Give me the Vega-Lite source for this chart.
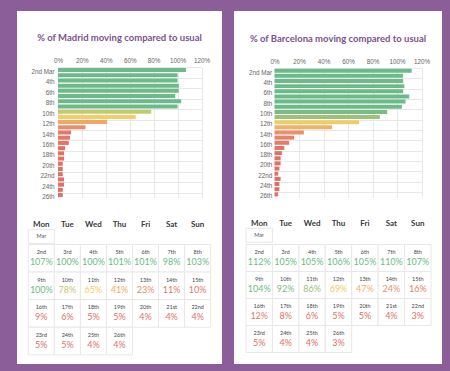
{
  "$schema": "https://vega.github.io/schema/vega-lite/v6.json",
  "background": "#8b5d99",
  "padding": {"left": 17, "top": 11, "right": 8, "bottom": 7},
  "datasets": {
    "madrid": [
      {"day": 2, "label": "2nd", "share": 1.07, "dow": "Mon", "week": 1},
      {"day": 3, "label": "3rd", "share": 1.00, "dow": "Tue", "week": 1},
      {"day": 4, "label": "4th", "share": 1.00, "dow": "Wed", "week": 1},
      {"day": 5, "label": "5th", "share": 1.01, "dow": "Thu", "week": 1},
      {"day": 6, "label": "6th", "share": 1.01, "dow": "Fri", "week": 1},
      {"day": 7, "label": "7th", "share": 0.98, "dow": "Sat", "week": 1},
      {"day": 8, "label": "8th", "share": 1.03, "dow": "Sun", "week": 1},
      {"day": 9, "label": "9th", "share": 1.00, "dow": "Mon", "week": 2},
      {"day": 10, "label": "10th", "share": 0.78, "dow": "Tue", "week": 2},
      {"day": 11, "label": "11th", "share": 0.65, "dow": "Wed", "week": 2},
      {"day": 12, "label": "12th", "share": 0.41, "dow": "Thu", "week": 2},
      {"day": 13, "label": "13th", "share": 0.23, "dow": "Fri", "week": 2},
      {"day": 14, "label": "14th", "share": 0.11, "dow": "Sat", "week": 2},
      {"day": 15, "label": "15th", "share": 0.10, "dow": "Sun", "week": 2},
      {"day": 16, "label": "16th", "share": 0.09, "dow": "Mon", "week": 3},
      {"day": 17, "label": "17th", "share": 0.06, "dow": "Tue", "week": 3},
      {"day": 18, "label": "18th", "share": 0.05, "dow": "Wed", "week": 3},
      {"day": 19, "label": "19th", "share": 0.05, "dow": "Thu", "week": 3},
      {"day": 20, "label": "20th", "share": 0.04, "dow": "Fri", "week": 3},
      {"day": 21, "label": "21st", "share": 0.04, "dow": "Sat", "week": 3},
      {"day": 22, "label": "22nd", "share": 0.04, "dow": "Sun", "week": 3},
      {"day": 23, "label": "23rd", "share": 0.05, "dow": "Mon", "week": 4},
      {"day": 24, "label": "24th", "share": 0.05, "dow": "Tue", "week": 4},
      {"day": 25, "label": "25th", "share": 0.04, "dow": "Wed", "week": 4},
      {"day": 26, "label": "26th", "share": 0.04, "dow": "Thu", "week": 4}
    ],
    "barcelona": [
      {"day": 2, "label": "2nd", "share": 1.12, "dow": "Mon", "week": 1},
      {"day": 3, "label": "3rd", "share": 1.05, "dow": "Tue", "week": 1},
      {"day": 4, "label": "4th", "share": 1.05, "dow": "Wed", "week": 1},
      {"day": 5, "label": "5th", "share": 1.06, "dow": "Thu", "week": 1},
      {"day": 6, "label": "6th", "share": 1.05, "dow": "Fri", "week": 1},
      {"day": 7, "label": "7th", "share": 1.10, "dow": "Sat", "week": 1},
      {"day": 8, "label": "8th", "share": 1.07, "dow": "Sun", "week": 1},
      {"day": 9, "label": "9th", "share": 1.04, "dow": "Mon", "week": 2},
      {"day": 10, "label": "10th", "share": 0.92, "dow": "Tue", "week": 2},
      {"day": 11, "label": "11th", "share": 0.86, "dow": "Wed", "week": 2},
      {"day": 12, "label": "12th", "share": 0.69, "dow": "Thu", "week": 2},
      {"day": 13, "label": "13th", "share": 0.47, "dow": "Fri", "week": 2},
      {"day": 14, "label": "14th", "share": 0.24, "dow": "Sat", "week": 2},
      {"day": 15, "label": "15th", "share": 0.16, "dow": "Sun", "week": 2},
      {"day": 16, "label": "16th", "share": 0.12, "dow": "Mon", "week": 3},
      {"day": 17, "label": "17th", "share": 0.08, "dow": "Tue", "week": 3},
      {"day": 18, "label": "18th", "share": 0.06, "dow": "Wed", "week": 3},
      {"day": 19, "label": "19th", "share": 0.05, "dow": "Thu", "week": 3},
      {"day": 20, "label": "20th", "share": 0.05, "dow": "Fri", "week": 3},
      {"day": 21, "label": "21st", "share": 0.04, "dow": "Sat", "week": 3},
      {"day": 22, "label": "22nd", "share": 0.03, "dow": "Sun", "week": 3},
      {"day": 23, "label": "23rd", "share": 0.05, "dow": "Mon", "week": 4},
      {"day": 24, "label": "24th", "share": 0.04, "dow": "Tue", "week": 4},
      {"day": 25, "label": "25th", "share": 0.04, "dow": "Wed", "week": 4},
      {"day": 26, "label": "26th", "share": 0.03, "dow": "Thu", "week": 4}
    ],
    "month": [{"dow": "Mon", "m": "Mar"}]
  },
  "spacing": 12,
  "hconcat": [
    {
      "spacing": 0,
      "vconcat": [
        {
          "width": 205,
          "height": 194,
          "data": {"name": "madrid"},
          "title": {"text": "% of Madrid moving compared to usual", "offset": -36, "baseline": "middle"},
          "mark": {"type": "bar"},
          "encoding": {
            "x": {
              "field": "share", "type": "quantitative",
              "scale": {"domain": [0, 1.2], "range": [41, 184.5], "nice": false},
              "axis": {"orient": "top", "offset": -54, "values": [0, 0.2, 0.4, 0.6, 0.8, 1.0, 1.2], "format": ".0%", "labelFlush": false, "grid": true, "title": null}
            },
            "y": {
              "field": "label", "type": "nominal",
              "scale": {"domain": ["2nd","3rd","4th","5th","6th","7th","8th","9th","10th","11th","12th","13th","14th","15th","16th","17th","18th","19th","20th","21st","22nd","23rd","24th","25th","26th"], "range": [56.4, 186.65], "paddingInner": 0.23, "paddingOuter": 0.115},
              "axis": {"orient": "left", "offset": -39, "values": ["2nd","4th","6th","8th","10th","12th","14th","16th","18th","20th","22nd","24th","26th"], "bandPosition": 0, "labelOffset": 2, "labelExpr": "datum.value == '2nd' ? '2nd Mar' : datum.value", "grid": true, "title": null}
            },
            "color": {
              "field": "share", "type": "quantitative",
              "scale": {"domain": [0.05, 0.15, 0.25, 0.45, 0.67, 0.8, 0.95], "range": ["#e06f66", "#e57f6b", "#ea926c", "#f2ae68", "#f5d067", "#bcc66d", "#6cba89"], "clamp": true, "interpolate": "rgb"},
              "legend": null
            }
          }
        },
        {
          "width": 205,
          "height": 39,
          "data": {"name": "month"},
          "encoding": {
            "x": {
              "field": "dow", "type": "nominal",
              "scale": {"domain": ["Mon","Tue","Wed","Thu","Fri","Sat","Sun"], "range": [11.3, 193.7], "paddingInner": 0, "paddingOuter": 0},
              "axis": {"orient": "top", "offset": -19.3, "labelBaseline": "middle", "labelPadding": 0, "labelAngle": 0, "labelFont": "Lato", "labelFontSize": 8, "labelFontWeight": "bold", "labelColor": "#3a3a3a", "grid": false, "title": null}
            },
            "y": {"field": "m", "type": "nominal", "scale": {"domain": ["Mar"], "range": [24.3, 38.3], "paddingInner": 0, "paddingOuter": 0}, "axis": null}
          },
          "layer": [
            {"mark": {"type": "rect", "fill": "white", "stroke": "#e8e8e8", "strokeWidth": 1}},
            {"mark": {"type": "text", "font": "Lato", "fontSize": 5.5, "color": "#555555"}, "encoding": {"text": {"field": "m"}}}
          ]
        },
        {
          "width": 205,
          "height": 120,
          "data": {"name": "madrid"},
          "encoding": {
            "x": {
              "field": "dow", "type": "nominal",
              "scale": {"domain": ["Mon","Tue","Wed","Thu","Fri","Sat","Sun"], "range": [11.3, 193.7], "paddingInner": 0, "paddingOuter": 0},
              "axis": null
            },
            "y": {"field": "week", "type": "ordinal", "scale": {"domain": [1, 2, 3, 4], "range": [0.5, 110.8], "paddingInner": 0, "paddingOuter": 0}, "axis": null}
          },
          "layer": [
            {"mark": {"type": "rect", "fill": "white", "stroke": "#e8e8e8", "strokeWidth": 1}},
            {"mark": {"type": "text", "font": "Lato", "fontSize": 5.5, "color": "#444444", "dy": -6.3}, "encoding": {"text": {"field": "label"}}},
            {
              "mark": {"type": "text", "font": "Lato", "fontSize": 9, "dy": 4},
              "encoding": {
                "text": {"field": "share", "type": "quantitative", "format": ".0%"},
                "color": {
                  "field": "share", "type": "quantitative",
                  "scale": {"domain": [0.05, 0.15, 0.25, 0.45, 0.67, 0.8, 0.95], "range": ["#e06f66", "#e57f6b", "#ea926c", "#f2ae68", "#f5d067", "#bcc66d", "#6cba89"], "clamp": true, "interpolate": "rgb"},
                  "legend": null
                }
              }
            }
          ]
        }
      ]
    },
    {
      "spacing": 0,
      "vconcat": [
        {
          "width": 208,
          "height": 194,
          "data": {"name": "barcelona"},
          "title": {"text": "% of Barcelona moving compared to usual", "offset": -37.5, "baseline": "middle"},
          "mark": {"type": "bar"},
          "encoding": {
            "x": {
              "field": "share", "type": "quantitative",
              "scale": {"domain": [0, 1.2], "range": [40.5, 187.5], "nice": false},
              "axis": {"orient": "top", "offset": -55, "values": [0, 0.2, 0.4, 0.6, 0.8, 1.0, 1.2], "format": ".0%", "labelFlush": false, "grid": true, "title": null}
            },
            "y": {
              "field": "label", "type": "nominal",
              "scale": {"domain": ["2nd","3rd","4th","5th","6th","7th","8th","9th","10th","11th","12th","13th","14th","15th","16th","17th","18th","19th","20th","21st","22nd","23rd","24th","25th","26th"], "range": [57.1, 185.9], "paddingInner": 0.23, "paddingOuter": 0.115},
              "axis": {"orient": "left", "offset": -39.7, "values": ["2nd","4th","6th","8th","10th","12th","14th","16th","18th","20th","22nd","24th","26th"], "bandPosition": 0, "labelOffset": 2, "labelExpr": "datum.value == '2nd' ? '2nd Mar' : datum.value", "grid": true, "title": null}
            },
            "color": {
              "field": "share", "type": "quantitative",
              "scale": {"domain": [0.05, 0.15, 0.25, 0.45, 0.67, 0.8, 0.95], "range": ["#e06f66", "#e57f6b", "#ea926c", "#f2ae68", "#f5d067", "#bcc66d", "#6cba89"], "clamp": true, "interpolate": "rgb"},
              "legend": null
            }
          }
        },
        {
          "width": 208,
          "height": 39,
          "data": {"name": "month"},
          "encoding": {
            "x": {
              "field": "dow", "type": "nominal",
              "scale": {"domain": ["Mon","Tue","Wed","Thu","Fri","Sat","Sun"], "range": [12, 197], "paddingInner": 0, "paddingOuter": 0},
              "axis": {"orient": "top", "offset": -18, "labelBaseline": "middle", "labelPadding": 0, "labelAngle": 0, "labelFont": "Lato", "labelFontSize": 8, "labelFontWeight": "bold", "labelColor": "#3a3a3a", "grid": false, "title": null}
            },
            "y": {"field": "m", "type": "nominal", "scale": {"domain": ["Mar"], "range": [23.3, 37.3], "paddingInner": 0, "paddingOuter": 0}, "axis": null}
          },
          "layer": [
            {"mark": {"type": "rect", "fill": "white", "stroke": "#e8e8e8", "strokeWidth": 1}},
            {"mark": {"type": "text", "font": "Lato", "fontSize": 5.5, "color": "#555555"}, "encoding": {"text": {"field": "m"}}}
          ]
        },
        {
          "width": 208,
          "height": 120,
          "data": {"name": "barcelona"},
          "encoding": {
            "x": {
              "field": "dow", "type": "nominal",
              "scale": {"domain": ["Mon","Tue","Wed","Thu","Fri","Sat","Sun"], "range": [12, 197], "paddingInner": 0, "paddingOuter": 0},
              "axis": null
            },
            "y": {"field": "week", "type": "ordinal", "scale": {"domain": [1, 2, 3, 4], "range": [0.5, 108.5], "paddingInner": 0, "paddingOuter": 0}, "axis": null}
          },
          "layer": [
            {"mark": {"type": "rect", "fill": "white", "stroke": "#e8e8e8", "strokeWidth": 1}},
            {"mark": {"type": "text", "font": "Lato", "fontSize": 5.5, "color": "#444444", "dy": -6.5}, "encoding": {"text": {"field": "label"}}},
            {
              "mark": {"type": "text", "font": "Lato", "fontSize": 9, "dy": 4.2},
              "encoding": {
                "text": {"field": "share", "type": "quantitative", "format": ".0%"},
                "color": {
                  "field": "share", "type": "quantitative",
                  "scale": {"domain": [0.05, 0.15, 0.25, 0.45, 0.67, 0.8, 0.95], "range": ["#e06f66", "#e57f6b", "#ea926c", "#f2ae68", "#f5d067", "#bcc66d", "#6cba89"], "clamp": true, "interpolate": "rgb"},
                  "legend": null
                }
              }
            }
          ]
        }
      ]
    }
  ],
  "config": {
    "view": {"fill": "white", "stroke": null},
    "title": {"font": "Lato", "fontSize": 9.5, "fontWeight": "bold", "color": "#7b5290", "anchor": "middle"},
    "axis": {
      "labelFont": "Liberation Sans",
      "labelFontSize": 6.3,
      "labelColor": "#666666",
      "ticks": false,
      "tickSize": 0,
      "domain": false,
      "labelPadding": 2,
      "labelOverlap": false,
      "gridColor": "#e8e8e8",
      "gridWidth": 1
    }
  }
}
